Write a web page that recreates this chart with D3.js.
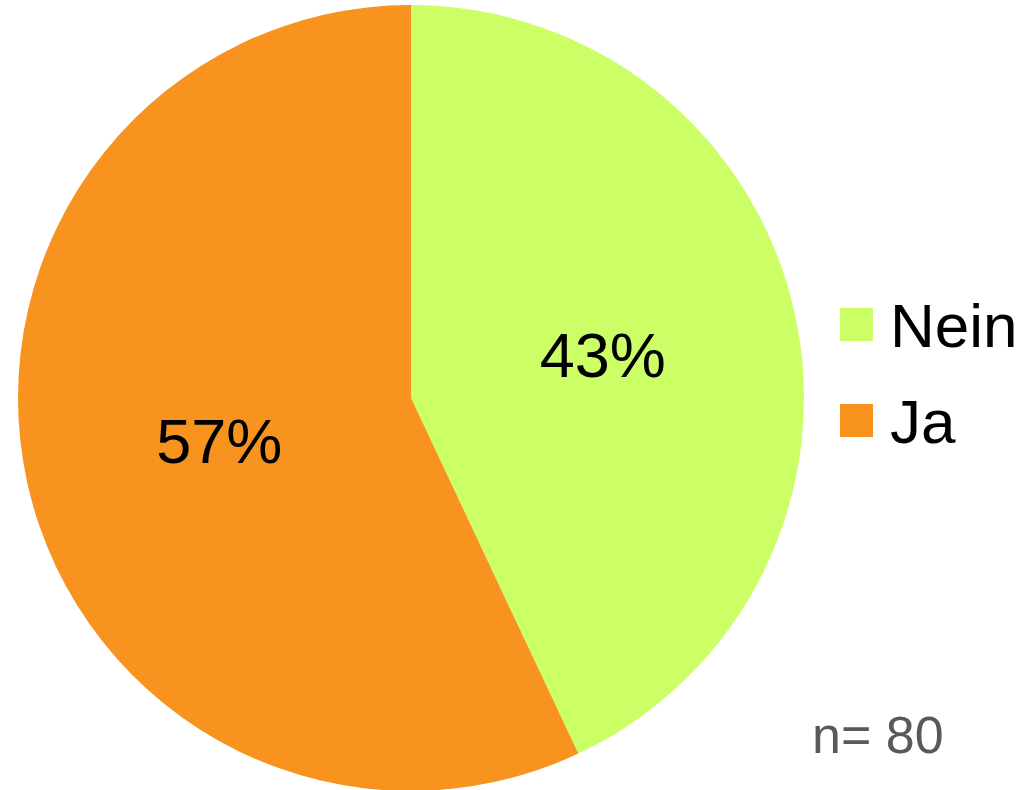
<!DOCTYPE html>
<html>
<head>
<meta charset="utf-8">
<script src="https://cdn.jsdelivr.net/npm/d3@7"></script>
<style>
  body { margin: 0; background: white; }
  text { font-family: "Liberation Sans", Arial, sans-serif; }
</style>
</head>
<body>
<svg></svg>
<script>
var categories = ["Nein", "Ja"];
var values = [43, 57];
var colors = ["#CCFF66", "#F7931E"];
var sampleNote = "n= 80";

var width = 1033, height = 790;
var cx = 411, cy = 398, radius = 393;

var svg = d3.select("svg")
  .attr("width", width)
  .attr("height", height);

var pie = d3.pie().sort(null).value(function(d) { return d; });
var arc = d3.arc().innerRadius(0).outerRadius(radius);
var labelArc = d3.arc().innerRadius(radius / 2).outerRadius(radius / 2);

var g = svg.append("g").attr("transform", "translate(" + cx + "," + cy + ")");
var arcs = pie(values);

//Slices
g.selectAll("path.slice")
  .data(arcs)
  .enter().append("path")
  .attr("class", "slice")
  .attr("d", arc)
  .attr("fill", function(d, i) { return colors[i]; });

//Percent labels
g.selectAll("text.pct")
  .data(arcs)
  .enter().append("text")
  .attr("class", "pct")
  .attr("x", function(d) { return labelArc.centroid(d)[0]; })
  .attr("y", function(d) { return labelArc.centroid(d)[1]; })
  .attr("text-anchor", "middle")
  .attr("dominant-baseline", "central")
  .attr("font-size", 63)
  .attr("fill", "black")
  .text(function(d) { return d.data + "%"; });

//Legend
var legend = svg.append("g").attr("transform", "translate(840,308)");
var item = legend.selectAll("g")
  .data(categories)
  .enter().append("g")
  .attr("transform", function(d, i) { return "translate(0," + (i * 96) + ")"; });
item.append("rect")
  .attr("width", 33).attr("height", 33)
  .attr("fill", function(d, i) { return colors[i]; });
item.append("text")
  .attr("x", 50).attr("y", 39)
  .attr("font-size", 62)
  .attr("fill", "black")
  .text(function(d) { return d; });

//Sample size note
svg.append("text")
  .attr("x", 812).attr("y", 753)
  .attr("font-size", 52)
  .attr("fill", "#595959")
  .text(sampleNote);
</script>
</body>
</html>
